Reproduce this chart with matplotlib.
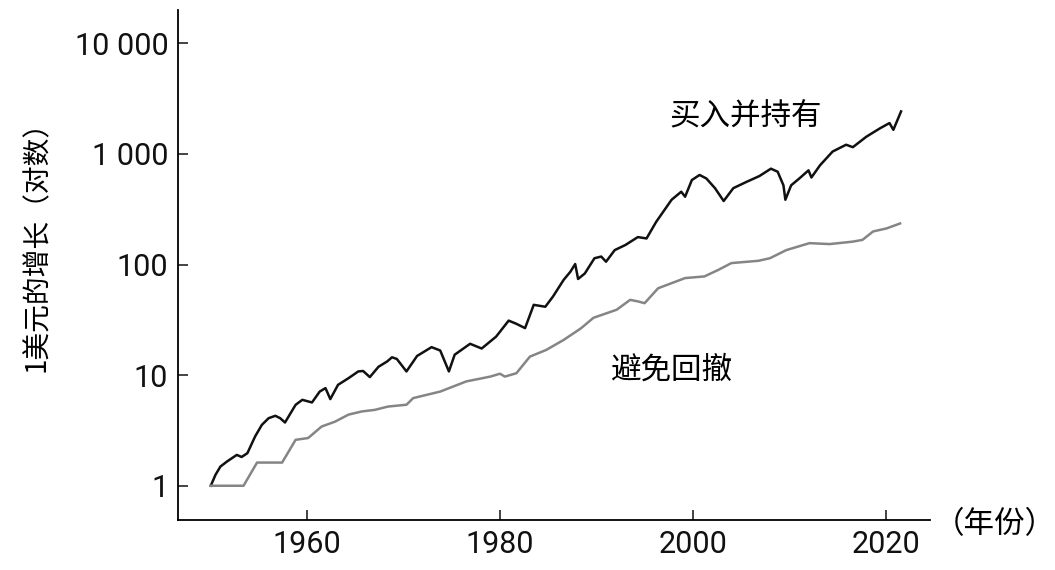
import matplotlib
matplotlib.use("Agg")
import matplotlib.pyplot as plt
from matplotlib.ticker import NullLocator

plt.rcParams['font.family'] = ['Noto Sans CJK SC', 'DejaVu Sans']

# buy and hold (black)
hold_years = [1950.0, 1950.5, 1951.0, 1951.7, 1952.7, 1953.2, 1953.8, 1954.6, 1955.3, 1956.0,
              1956.7, 1957.2, 1957.7, 1958.8, 1959.5, 1960.5, 1961.3, 1961.9, 1962.4, 1963.2,
              1964.3, 1965.3, 1965.8, 1966.5, 1967.4, 1968.3, 1968.8, 1969.3, 1970.3, 1971.4,
              1972.9, 1973.8, 1974.7, 1975.3, 1976.9, 1978.1, 1979.6, 1980.9, 1981.7, 1982.6,
              1983.5, 1984.7, 1985.5, 1986.6, 1987.3, 1987.8, 1988.1, 1988.8, 1989.8, 1990.5,
              1991.0, 1991.9, 1993.0, 1994.3, 1995.2, 1996.2, 1997.8, 1998.8, 1999.2, 1999.9,
              2000.7, 2001.4, 2002.3, 2003.2, 2004.2, 2005.6, 2006.9, 2008.1, 2008.8, 2009.4,
              2009.6, 2010.2, 2011.1, 2012.0, 2012.3, 2013.2, 2014.5, 2015.9, 2016.6, 2018.0,
              2019.4, 2020.4, 2020.8, 2021.6]
hold_values = [1.0, 1.26, 1.49, 1.66, 1.9, 1.82, 1.97, 2.79, 3.55, 4.08,
               4.29, 4.08, 3.73, 5.39, 5.98, 5.66, 7.1, 7.63, 6.07, 8.17,
               9.4, 10.8, 10.9, 9.6, 11.9, 13.3, 14.5, 14.0, 10.8, 14.9,
               17.9, 16.7, 10.8, 15.3, 19.2, 17.4, 22.3, 31.1, 29.1, 26.6,
               43.2, 41.5, 51.4, 72.6, 86, 101, 74, 83, 114, 118,
               106, 135, 150, 177, 172, 243, 385, 455, 410, 580,
               645, 600, 490, 375, 490, 560, 630, 735, 690, 520,
               385, 520, 605, 710, 612, 790, 1050, 1210, 1150, 1430,
               1700, 1900, 1650, 2420]

# avoid drawdowns (gray)
avoid_years = [1950.0, 1953.4, 1954.8, 1957.4, 1958.8, 1960.1, 1961.5, 1962.9, 1964.3, 1965.7,
               1967.0, 1968.4, 1970.3, 1971.0, 1973.8, 1976.5, 1979.0, 1980.0, 1980.5, 1981.7,
               1983.1, 1984.8, 1986.6, 1988.4, 1989.7, 1992.1, 1993.5, 1994.3, 1995.0, 1996.4,
               1999.2, 2001.2, 2002.6, 2004.0, 2006.8, 2008.0, 2009.7, 2012.1, 2014.2, 2016.6,
               2017.6, 2018.7, 2020.1, 2021.5]
avoid_values = [1.0, 1.0, 1.62, 1.62, 2.6, 2.7, 3.43, 3.8, 4.4, 4.7,
                4.85, 5.2, 5.4, 6.2, 7.1, 8.77, 9.7, 10.3, 9.7, 10.4,
                14.7, 16.9, 20.8, 26.5, 33, 39, 47.9, 46.4, 44.7, 61,
                75.4, 78, 89, 103, 108, 114, 135, 156, 153, 161,
                167, 199, 212, 235]

x_ticks = [1960, 1980, 2000, 2020]
y_ticks = [1, 10, 100, 1000, 10000]
y_tick_labels = ['1', '10', '100', '1 000', '10 000']

fig = plt.figure(figsize=(10.55, 5.7), dpi=100)
ax = fig.add_axes([0.1687, 0.0877, 0.8815 - 0.1687, 0.9825 - 0.0877])

ax.plot(hold_years, hold_values, color='#111111', lw=1.8)
ax.plot(avoid_years, avoid_values, color='#858585', lw=1.8)

ax.set_yscale('log')
ax.set_xlim(1946.6, 2024.6)
ax.set_ylim(0.49, 20000)
ax.set_xticks(x_ticks)
ax.set_xticklabels([str(t) for t in x_ticks])
ax.set_yticks(y_ticks)
ax.set_yticklabels(y_tick_labels)
ax.yaxis.set_minor_locator(NullLocator())

for s in ['top', 'right']:
    ax.spines[s].set_visible(False)
for s in ['left', 'bottom']:
    ax.spines[s].set_linewidth(1.3)
ax.tick_params(direction='in', length=7, width=1.1, color='#111111',
               labelcolor='#111111', pad=7)
for lab in ax.get_xticklabels() + ax.get_yticklabels():
    lab.set_family(['Roboto', 'DejaVu Sans'])
    lab.set_fontweight('normal')
    lab.set_fontsize(22)

ax.set_ylabel('1美元的增长（对数）', fontsize=20, labelpad=16)
ax.yaxis.label.set_y(0.55)

ax.text(2005.5, 2150, '买入并持有', fontsize=22, ha='center', va='center')
ax.text(1997.8, 11.0, '避免回撤', fontsize=22, ha='center', va='center')
ax.text(1.005, -0.008, '（年份）', transform=ax.transAxes, fontsize=22,
        ha='left', va='center', clip_on=False)

fig.savefig('out.png', dpi=100)
